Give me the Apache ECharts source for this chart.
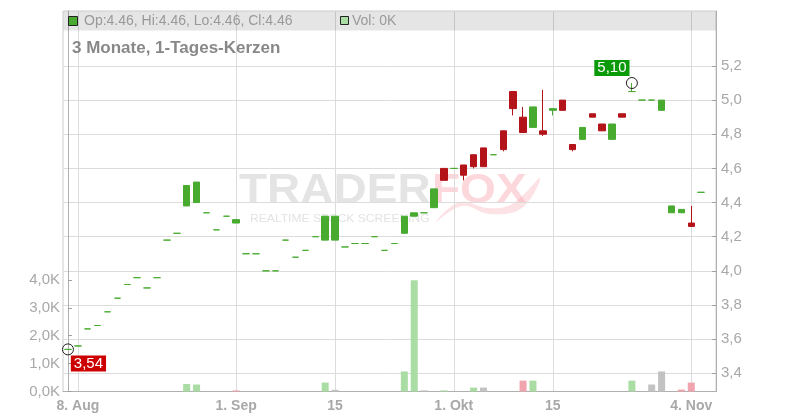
<!DOCTYPE html>
<html><head><meta charset="utf-8">
<script src="https://cdn.jsdelivr.net/npm/echarts@6/dist/echarts.min.js"></script>
<style>html,body{margin:0;padding:0;background:#fff}#c{width:800px;height:420px}</style>
</head><body><div id="c"></div>
<script>
const dates = [
 '2025-08-07','2025-08-08','2025-08-11','2025-08-12','2025-08-13','2025-08-14','2025-08-15',
 '2025-08-18','2025-08-19','2025-08-20','2025-08-21','2025-08-22','2025-08-25','2025-08-26',
 '2025-08-27','2025-08-28','2025-08-29','2025-09-01','2025-09-02','2025-09-03','2025-09-04',
 '2025-09-05','2025-09-08','2025-09-09','2025-09-10','2025-09-11','2025-09-12','2025-09-15',
 '2025-09-16','2025-09-17','2025-09-18','2025-09-19','2025-09-22','2025-09-23','2025-09-24',
 '2025-09-25','2025-09-26','2025-09-29','2025-09-30','2025-10-01','2025-10-02','2025-10-03',
 '2025-10-06','2025-10-07','2025-10-08','2025-10-09','2025-10-10','2025-10-13','2025-10-14',
 '2025-10-15','2025-10-16','2025-10-17','2025-10-20','2025-10-21','2025-10-22','2025-10-23',
 '2025-10-24','2025-10-27','2025-10-28','2025-10-29','2025-10-30','2025-10-31','2025-11-03',
 '2025-11-04','2025-11-05'];
const open = [3.54,3.56,3.66,3.68,3.76,3.84,3.92,3.96,3.90,3.96,
 4.18,4.22,4.38,4.40,4.34,4.24,4.32,4.28,4.10,4.10,
 4.00,4.00,4.18,4.08,4.12,4.20,4.18,4.18,4.14,4.16,
 4.16,4.20,4.12,4.16,4.22,4.32,4.34,4.37,4.60,4.60,
 4.62,4.68,4.72,4.68,4.82,5.05,4.90,4.84,4.82,4.94,
 5.00,4.74,4.77,4.92,4.86,4.77,4.92,5.05,5.00,5.00,
 4.94,4.34,4.34,4.28,4.46];
const close = [3.54,3.56,3.66,3.68,3.76,3.84,3.92,3.96,3.90,3.96,
 4.18,4.22,4.50,4.52,4.34,4.24,4.32,4.30,4.10,4.10,
 4.00,4.00,4.18,4.08,4.12,4.20,4.32,4.32,4.14,4.16,
 4.16,4.20,4.12,4.16,4.32,4.34,4.34,4.48,4.53,4.60,
 4.56,4.61,4.61,4.68,4.71,4.95,4.81,4.96,4.80,4.95,
 4.94,4.71,4.84,4.90,4.82,4.86,4.90,5.05,5.00,5.00,
 5.00,4.38,4.36,4.26,4.46];
const low = [3.54,3.56,3.66,3.68,3.76,3.84,3.92,3.96,3.90,3.96,
 4.18,4.22,4.38,4.40,4.34,4.24,4.32,4.28,4.10,4.10,
 4.00,4.00,4.18,4.08,4.12,4.20,4.18,4.18,4.14,4.16,
 4.16,4.20,4.12,4.16,4.22,4.32,4.34,4.37,4.53,4.60,
 4.53,4.60,4.61,4.68,4.70,4.91,4.81,4.84,4.79,4.91,
 4.94,4.70,4.77,4.90,4.82,4.77,4.90,5.05,5.00,5.00,
 4.94,4.34,4.34,4.26,4.46];
const high = [3.54,3.56,3.66,3.68,3.76,3.84,3.92,3.96,3.90,3.96,
 4.18,4.22,4.50,4.52,4.34,4.24,4.32,4.30,4.10,4.10,
 4.00,4.00,4.18,4.08,4.12,4.20,4.32,4.32,4.14,4.16,
 4.16,4.20,4.12,4.16,4.32,4.34,4.34,4.48,4.60,4.60,
 4.62,4.68,4.72,4.68,4.82,5.05,4.96,4.96,5.06,4.95,
 5.00,4.74,4.84,4.92,4.86,4.86,4.92,5.10,5.00,5.00,
 5.00,4.38,4.36,4.38,4.46];
const volume = [0,0,0,0,0,0,0,0,0,0,
 0,0,270,250,0,0,0,40,0,0,
 0,0,0,0,0,0,320,60,0,0,
 0,0,0,0,720,3990,40,0,40,0,
 0,140,140,0,0,0,390,390,0,0,
 0,0,0,0,0,0,0,390,0,250,
 720,0,70,320,0];
const tickDates = ['2025-08-08','2025-09-01','2025-09-15','2025-10-01','2025-10-15','2025-11-04'];
const tickTexts = ['8. Aug','1. Sep','15','1. Okt','15','4. Nov'];
const priceTicks = [3.4,3.6,3.8,4.0,4.2,4.4,4.6,4.8,5.0,5.2];
const volumeTicks = [0,1000,2000,3000,4000];

const FONT = "'Liberation Sans', Arial, sans-serif";
const UP = '#48ab30', DOWN = '#b3141a';
const tickIdx = tickDates.map(d => dates.indexOf(d));
const candleData = dates.map((d, i) => [i, open[i], close[i], low[i], high[i]]);
const volData = volume.map((v, i) => {
  let c = '#c2c2c2';
  if (i > 0 && close[i] > close[i - 1]) c = '#aadda4';
  else if (i > 0 && close[i] < close[i - 1]) c = '#f0a4ae';
  return { value: [i, v], itemStyle: { color: c } };
});
const hiIdx = high.indexOf(Math.max(...high));
const loIdx = low.indexOf(Math.min(...low));
const fmt = v => v.toFixed(2).replace('.', ',');
const last = dates.length - 1;

const chart = echarts.init(document.getElementById('c'), null, { renderer: 'canvas' });
chart.setOption({
  animation: false,
  backgroundColor: '#fff',
  textStyle: { fontFamily: FONT },
  grid: { left: 63, right: 84, top: 11, bottom: 28.5, show: true, borderColor: '#cccccc', borderWidth: 1, containLabel: false, outerBoundsMode: 'none' },
  xAxis: {
    type: 'value', min: -0.5, max: dates.length + 0.5,
    axisLine: { show: true, lineStyle: { color: '#b0b0b0' } },
    axisTick: { show: false, customValues: tickIdx },
    axisLabel: { customValues: tickIdx, color: '#a8a8a8', fontSize: 14, fontWeight: 'bold', fontFamily: FONT, margin: 8,
      formatter: v => tickTexts[tickIdx.indexOf(Math.round(v))] || '' },
    splitLine: { show: true, lineStyle: { color: '#dcdcdc', width: 1 } }
  },
  yAxis: [
    { type: 'value', position: 'left', min: 0, max: 13650,
      axisLine: { show: true, lineStyle: { color: '#b0b0b0' } },
      axisTick: { show: true, inside: true, length: 4, customValues: volumeTicks, lineStyle: { color: '#a0a0a0' } },
      axisLabel: { customValues: volumeTicks, color: '#a8a8a8', fontSize: 15, fontFamily: FONT, margin: 3,
        formatter: v => (v / 1000).toFixed(1).replace('.', ',') + 'K' },
      splitLine: { show: false } },
    { type: 'value', position: 'right', min: 3.2934, max: 5.5218,
      axisLine: { show: true, lineStyle: { color: '#b0b0b0' } },
      axisTick: { show: true, inside: true, length: 4, customValues: priceTicks, lineStyle: { color: '#a0a0a0' } },
      axisLabel: { customValues: priceTicks, color: '#a8a8a8', fontSize: 15, fontFamily: FONT, margin: 5,
        formatter: v => v.toFixed(1).replace('.', ',') },
      splitLine: { show: true, lineStyle: { color: '#dcdcdc', width: 1 } } }
  ],
  series: [
    { type: 'bar', xAxisIndex: 0, yAxisIndex: 0, data: volData, barWidth: 7, z: 2 },
    { type: 'candlestick', xAxisIndex: 0, yAxisIndex: 1, data: candleData, barWidth: 7, z: 3,
      encode: { x: 0, y: [1, 2, 3, 4] },
      itemStyle: { color: UP, color0: DOWN, borderColor: UP, borderColor0: DOWN, borderColorDoji: UP, borderWidth: 1 },
      markPoint: {
        symbol: 'circle', symbolSize: 11, silent: true,
        itemStyle: { color: 'rgba(255,255,255,0)', borderColor: '#222', borderWidth: 1 },
        label: { show: false },
        data: [
          { coord: [hiIdx, high[hiIdx]] },
          { coord: [loIdx, low[loIdx]] },
          { coord: [hiIdx, high[hiIdx]], symbolSize: 0,
            label: { show: true, formatter: fmt(high[hiIdx]), color: '#fff', fontSize: 15, fontFamily: FONT,
              backgroundColor: '#0a9a0a', padding: [1, 3, 0, 3], offset: [-20, -15], position: 'inside' } },
          { coord: [loIdx, low[loIdx]], symbolSize: 0,
            label: { show: true, formatter: fmt(low[loIdx]), color: '#fff', fontSize: 15, fontFamily: FONT,
              backgroundColor: '#cc0000', padding: [1, 3, 0, 3], offset: [20.5, 14], position: 'inside' } }
        ]
      } }
  ],
  graphic: [
    { type: 'rect', shape: { x: 63.5, y: 11.5, width: 652.5, height: 19 }, style: { fill: 'rgba(0,0,0,0.1)' }, z: 1, silent: true },
    { type: 'rect', shape: { x: 68.5, y: 16.5, width: 9, height: 9 }, style: { fill: UP, stroke: '#222', lineWidth: 1 }, z: 5 },
    { type: 'text', x: 84, y: 21, style: { text: 'Op:' + close[last].toFixed(2) + ', Hi:' + high[last].toFixed(2) + ', Lo:' + low[last].toFixed(2) + ', Cl:' + close[last].toFixed(2),
      fill: '#999', font: '14px ' + FONT, textVerticalAlign: 'middle' }, z: 5 },
    { type: 'rect', shape: { x: 340.5, y: 16.5, width: 8, height: 8 }, style: { fill: '#aadda4', stroke: '#222', lineWidth: 1 }, z: 5 },
    { type: 'text', x: 352, y: 21, style: { text: 'Vol: ' + Math.round(volume[last] / 1000) + 'K', fill: '#999', font: '14px ' + FONT, textVerticalAlign: 'middle' }, z: 5 },
    { type: 'text', x: 72, y: 48, style: { text: '3 Monate, 1-Tages-Kerzen', fill: '#888', font: 'bold 17px ' + FONT, textVerticalAlign: 'middle' }, z: 5 },
    { type: 'text', x: 239, y: 191, style: { text: 'TRADER', fill: 'rgba(190,190,190,0.42)', font: 'bold 43px ' + FONT, textVerticalAlign: 'middle' }, scaleX: 1.07, z: 0, silent: true },
    { type: 'text', x: 432, y: 191, style: { text: 'FOX', fill: 'rgba(248,160,170,0.42)', font: 'bold 43px ' + FONT, textVerticalAlign: 'middle' }, scaleX: 1.07, z: 0, silent: true },
    { type: 'text', x: 250, y: 219, style: { text: 'REALTIME STOCK SCREENING', fill: 'rgba(190,190,190,0.45)', font: '11px ' + FONT, textVerticalAlign: 'middle' }, scaleX: 1.1, z: 0, silent: true },
    { type: 'polygon', shape: { smooth: 0.4, points: [[436, 222], [462, 206], [490, 214], [522, 208], [540, 178], [512, 204], [488, 208], [460, 202]] },
      style: { fill: 'rgba(248,160,170,0.3)' }, z: 0, silent: true }
  ]
});
</script></body></html>
